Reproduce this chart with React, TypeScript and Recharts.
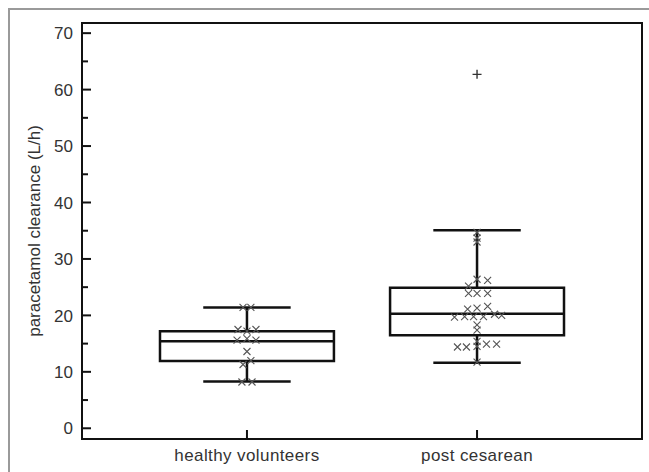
import React from 'react';
import { ScatterChart, Scatter, XAxis, YAxis, ReferenceArea, ReferenceLine } from 'recharts';

// groups and box statistics (L/h)
const groups = ['healthy volunteers', 'post cesarean'];
const groupPos = [1, 2];
const q1 = [11.9, 16.5];
const median = [15.4, 20.3];
const q3 = [17.2, 24.9];
const whiskerLow = [8.3, 11.6];
const whiskerHigh = [21.4, 35.1];

// outliers
const outlierGroup = [2];
const outlierValue = [62.7];

// individual patients, with the horizontal spread used in the figure
const healthyValues = [21.4, 21.4, 17.5, 17.2, 17.5, 15.6, 15.9, 15.6, 13.6, 12.0, 11.3, 8.2, 8.2];
const healthyJitter = [-0.017, 0.017, -0.039, 0, 0.039, -0.043, 0, 0.039, 0, 0.017, -0.017, -0.022, 0.022];

const cesareanValues = [
  34.7, 33.7, 33.0, 26.4, 26.2, 25.2, 23.9, 23.9, 23.9, 21.1, 21.3, 21.6,
  19.7, 19.8, 19.8, 19.8, 20.2, 20.0, 18.3, 17.4, 15.4, 14.5, 14.4, 14.4,
  14.9, 14.9, 11.7,
];
const cesareanJitter = [
  0, 0, 0, 0, 0.046, -0.037, -0.037, 0, 0.046, -0.041, 0, 0.046,
  -0.098, -0.054, -0.015, 0.028, 0.076, 0.107, 0, 0, 0, 0, -0.085, -0.046,
  0.041, 0.085, 0,
];

const yTicks = [0, 5, 10, 15, 20, 25, 30, 35, 40, 45, 50, 55, 60, 65, 70];
const xDomain: [number, number] = [0.283, 2.717];
const yDomain: [number, number] = [-1.9, 71.8];

const BOX_HALF = 0.378;
const CAP_HALF = 0.19;
const FONT = '"Liberation Sans", Arial, sans-serif';
const INK = '#111';

const healthyPoints = healthyValues.map((v, i) => ({ x: groupPos[0] + healthyJitter[i], y: v }));
const cesareanPoints = cesareanValues.map((v, i) => ({ x: groupPos[1] + cesareanJitter[i], y: v }));
const outlierPoints = outlierValue.map((v, i) => ({ x: outlierGroup[i], y: v }));

const Cross = (props: any) => {
  const { cx, cy } = props;
  const s = 3.5;
  return (
    <path
      d={`M${cx - s},${cy - s}L${cx + s},${cy + s}M${cx + s},${cy - s}L${cx - s},${cy + s}`}
      stroke="#555"
      strokeWidth={1.1}
      fill="none"
    />
  );
};

const Plus = (props: any) => {
  const { cx, cy } = props;
  const s = 4.5;
  return (
    <path
      d={`M${cx - s},${cy}L${cx + s},${cy}M${cx},${cy - s}L${cx},${cy + s}`}
      stroke="#333"
      strokeWidth={1.4}
      fill="none"
    />
  );
};

const YTick = (props: any) => {
  const { x, y, payload } = props;
  const major = payload.value % 10 === 0;
  const ax = x + 8;
  return (
    <g>
      <line x1={ax} x2={ax + (major ? 9 : 6)} y1={y} y2={y} stroke={INK} strokeWidth={2} />
      {major && (
        <text x={x - 1} y={y} dy="0.36em" textAnchor="end" fontSize={17} fontFamily={FONT} fill="#333">
          {payload.value}
        </text>
      )}
    </g>
  );
};

const XTick = (props: any) => {
  const { x, y, payload } = props;
  const ay = y - 8;
  const idx = groupPos.indexOf(payload.value);
  return (
    <g>
      <line x1={x} x2={x} y1={ay} y2={ay - 9} stroke={INK} strokeWidth={2} />
      <text x={x} y={y + 14} textAnchor="middle" fontSize={17} fontFamily={FONT} fill="#333" letterSpacing={0.4}>
        {groups[idx]}
      </text>
    </g>
  );
};

const YLabel = (props: any) => {
  const { viewBox } = props;
  const cx = viewBox.x + 34;
  const cy = viewBox.y + viewBox.height / 2;
  return (
    <text
      x={cx}
      y={cy}
      transform={`rotate(-90, ${cx}, ${cy})`}
      textAnchor="middle"
      dominantBaseline="central"
      fontSize={17}
      fontFamily={FONT}
      fill="#333"
    >
      paracetamol clearance (L/h)
    </text>
  );
};

export default function App() {
  return (
    <div style={{ position: 'absolute', left: 0, top: 0, width: 649, height: 472, background: '#fff', overflow: 'hidden' }}>
      <div
        style={{
          position: 'absolute',
          left: 8,
          top: 8,
          width: 660,
          height: 480,
          borderTop: '2px solid #9a9a9a',
          borderLeft: '2px solid #9a9a9a',
        }}
      />
      <div style={{ position: 'absolute', left: 0, top: 0 }}>
        <ScatterChart width={649} height={472} margin={{ top: 23, right: 7, bottom: 0, left: 0 }}>
          <XAxis
            type="number"
            dataKey="x"
            domain={xDomain}
            ticks={groupPos}
            allowDataOverflow
            axisLine={false}
            tickLine={false}
            tickSize={0}
            tickMargin={8}
            height={33}
            interval={0}
            tick={<XTick />}
          />
          <YAxis
            type="number"
            dataKey="y"
            domain={yDomain}
            ticks={yTicks}
            allowDataOverflow
            axisLine={false}
            tickLine={false}
            tickSize={0}
            tickMargin={8}
            width={82}
            interval={0}
            tick={<YTick />}
            label={<YLabel />}
          />

          {/* plot frame */}
          <ReferenceArea
            x1={xDomain[0]}
            x2={xDomain[1]}
            y1={yDomain[0]}
            y2={yDomain[1]}
            fill="none"
            fillOpacity={0}
            stroke={INK}
            strokeWidth={2}
            ifOverflow="visible"
          />

          <Scatter data={healthyPoints} shape={<Cross />} isAnimationActive={false} />
          <Scatter data={cesareanPoints} shape={<Cross />} isAnimationActive={false} />
          <Scatter data={outlierPoints} shape={<Plus />} isAnimationActive={false} />

          {groupPos.map((p, i) => (
            <ReferenceArea
              key={`box-${i}`}
              x1={p - BOX_HALF}
              x2={p + BOX_HALF}
              y1={q1[i]}
              y2={q3[i]}
              fill="none"
              fillOpacity={0}
              stroke={INK}
              strokeWidth={2.5}
              ifOverflow="visible"
            />
          ))}
          {groupPos.map((p, i) => (
            <ReferenceLine
              key={`med-${i}`}
              segment={[{ x: p - BOX_HALF, y: median[i] }, { x: p + BOX_HALF, y: median[i] }]}
              stroke={INK}
              strokeWidth={2.5}
              ifOverflow="visible"
            />
          ))}
          {groupPos.map((p, i) => (
            <ReferenceLine
              key={`wu-${i}`}
              segment={[{ x: p, y: q3[i] }, { x: p, y: whiskerHigh[i] }]}
              stroke={INK}
              strokeWidth={2.5}
              ifOverflow="visible"
            />
          ))}
          {groupPos.map((p, i) => (
            <ReferenceLine
              key={`wl-${i}`}
              segment={[{ x: p, y: q1[i] }, { x: p, y: whiskerLow[i] }]}
              stroke={INK}
              strokeWidth={2.5}
              ifOverflow="visible"
            />
          ))}
          {groupPos.map((p, i) => (
            <ReferenceLine
              key={`cu-${i}`}
              segment={[{ x: p - CAP_HALF, y: whiskerHigh[i] }, { x: p + CAP_HALF, y: whiskerHigh[i] }]}
              stroke={INK}
              strokeWidth={2.5}
              ifOverflow="visible"
            />
          ))}
          {groupPos.map((p, i) => (
            <ReferenceLine
              key={`cl-${i}`}
              segment={[{ x: p - CAP_HALF, y: whiskerLow[i] }, { x: p + CAP_HALF, y: whiskerLow[i] }]}
              stroke={INK}
              strokeWidth={2.5}
              ifOverflow="visible"
            />
          ))}
        </ScatterChart>
      </div>
    </div>
  );
}
